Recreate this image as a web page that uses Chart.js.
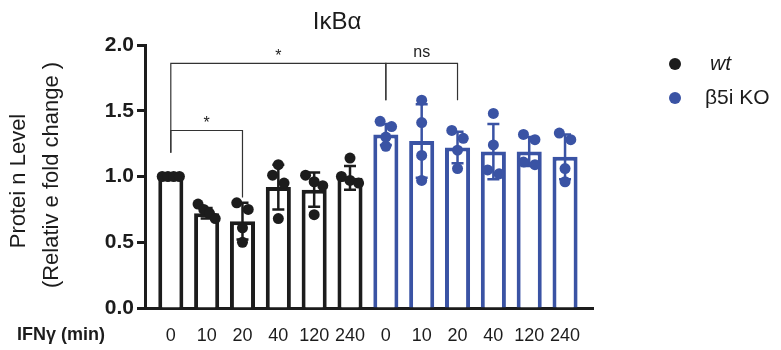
<!DOCTYPE html>
<html>
<head>
<meta charset="utf-8">
<title>IκBα</title>
<script src="https://cdn.jsdelivr.net/npm/chart.js@4"></script>
<style>
  html, body { margin: 0; padding: 0; background: #fff; }
</style>
</head>
<body>
<canvas id="ikbaChart" width="781" height="350"></canvas>
<script>
// IFNγ time points (min), same for both genotypes
const timeLabels = ['0', '10', '20', '40', '120', '240'];

// mean relative fold change
const wtMean = [1.00, 0.72, 0.66, 0.92, 0.90, 0.99];
const koMean = [1.32, 1.27, 1.22, 1.19, 1.19, 1.15];

// SD (error bars)
const wtSD = [0.01, 0.04, 0.14, 0.17, 0.13, 0.09];
const koSD = [0.08, 0.28, 0.12, 0.21, 0.11, 0.17];

// single replicates
const wtDots = [
  [1.00, 1.00, 1.00, 1.00],
  [0.79, 0.75, 0.72, 0.68],
  [0.80, 0.75, 0.61, 0.50],
  [1.09, 1.01, 0.95, 0.68],
  [1.01, 0.96, 0.93, 0.71],
  [1.14, 1.00, 0.97, 0.95]
];
const koDots = [
  [1.42, 1.38, 1.30, 1.23],
  [1.58, 1.41, 1.16, 0.97],
  [1.35, 1.29, 1.20, 1.06],
  [1.48, 1.24, 1.05, 1.02],
  [1.32, 1.28, 1.11, 1.09],
  [1.33, 1.28, 1.06, 0.96]
];

// significance brackets (bar index / y value)
const sigBrackets = [
  { from: 0, to: 6, y: 1.86, fromEnd: 1.18, toEnd: 1.58, label: '*' },
  { from: 0, to: 2, y: 1.35, fromEnd: 1.18, toEnd: 0.84, label: '*' },
  { from: 6, to: 8, y: 1.86, fromEnd: 1.58, toEnd: 1.58, label: 'ns' }
];

const BLACK = '#1c1c1c';
const BLUE = '#3a53a4';
const FONT = '"Liberation Sans", Arial, sans-serif';

const allMeans = wtMean.concat(koMean);
const allSD = wtSD.concat(koSD);
const barColors = allMeans.map((_, i) => i < wtMean.length ? BLACK : BLUE);

// spread out dots that would overlap (like prism scatter)
function spreadDots(vals) {
  const order = vals.map((v, k) => ({ v, k })).sort((a, b) => b.v - a.v);
  const off = vals.map(() => 0);
  let cluster = [order[0].k];
  const flush = () => {
    const n = cluster.length;
    if (n > 1) {
      const w = n === 2 ? 0.32 : 0.48;
      cluster.forEach((k, j) => { off[k] = -w / 2 + w * j / (n - 1); });
    }
  };
  for (let j = 1; j < order.length; j++) {
    const prev = order[j - 1].k, cur = order[j].k;
    if (Math.abs(vals[cur] - vals[prev]) < 0.065) {
      cluster.push(cur);
    } else {
      flush();
      cluster = [cur];
    }
  }
  flush();
  return off;
}

function dotPoints(groups, start) {
  const pts = [];
  groups.forEach((vals, i) => {
    const off = spreadDots(vals);
    vals.forEach((v, k) => pts.push({ x: start + i + off[k], y: v }));
  });
  return pts;
}

const errorBars = {
  id: 'errorBars',
  afterDatasetDraw(chart, args) {
    if (args.index !== 0) return;
    const ctx = chart.ctx, x = chart.scales.x, y = chart.scales.y;
    ctx.save();
    ctx.lineWidth = 2.5;
    allMeans.forEach((m, i) => {
      const px = x.getPixelForValue(i);
      const top = y.getPixelForValue(m + allSD[i]);
      const bot = y.getPixelForValue(m - allSD[i]);
      ctx.strokeStyle = barColors[i];
      ctx.beginPath();
      ctx.moveTo(px, top); ctx.lineTo(px, bot);
      ctx.moveTo(px - 6, top); ctx.lineTo(px + 6, top);
      ctx.moveTo(px - 6, bot); ctx.lineTo(px + 6, bot);
      ctx.stroke();
    });
    ctx.restore();
  }
};

const extras = {
  id: 'extras',
  afterDraw(chart) {
    const ctx = chart.ctx, x = chart.scales.x, y = chart.scales.y;
    ctx.save();

    // brackets
    ctx.strokeStyle = '#333';
    ctx.lineWidth = 1.2;
    ctx.fillStyle = '#222';
    ctx.textAlign = 'center';
    ctx.textBaseline = 'alphabetic';
    sigBrackets.forEach(b => {
      const x1 = x.getPixelForValue(b.from), x2 = x.getPixelForValue(b.to);
      const yl = y.getPixelForValue(b.y);
      ctx.beginPath();
      ctx.moveTo(x1, y.getPixelForValue(b.fromEnd));
      ctx.lineTo(x1, yl);
      ctx.lineTo(x2, yl);
      ctx.lineTo(x2, y.getPixelForValue(b.toEnd));
      ctx.stroke();
      ctx.font = '16px ' + FONT;
      ctx.fillText(b.label, (x1 + x2) / 2, b.label === '*' ? yl - 2 : yl - 6);
    });

    // title
    ctx.fillStyle = BLACK;
    ctx.font = '24px ' + FONT;
    ctx.textBaseline = 'middle';
    ctx.fillText('IκBα', 337, 22);

    // y axis title (two lines)
    ctx.save();
    ctx.font = '22px ' + FONT;
    ctx.translate(19, 181);
    ctx.rotate(-Math.PI / 2);
    ctx.fillText('Protei n Level', 0, 0);
    ctx.restore();
    ctx.save();
    ctx.font = '22px ' + FONT;
    ctx.translate(52, 175);
    ctx.rotate(-Math.PI / 2);
    ctx.fillText('(Relativ e fold change )', 0, 0);
    ctx.restore();

    // x axis caption
    ctx.textAlign = 'left';
    ctx.font = 'bold 18px ' + FONT;
    ctx.fillText('IFNγ (min)', 17, 335);

    // legend
    const legend = [
      { label: 'wt', color: BLACK, italic: true, y: 64 },
      { label: 'β5i KO', color: BLUE, italic: false, y: 98 }
    ];
    legend.forEach(l => {
      ctx.fillStyle = l.color;
      ctx.beginPath();
      ctx.arc(675, l.y, 6, 0, Math.PI * 2);
      ctx.fill();
      ctx.fillStyle = BLACK;
      ctx.font = (l.italic ? 'italic ' : '') + '21px ' + FONT;
      ctx.fillText(l.label, l.italic ? 710 : 705, l.y);
    });
    ctx.restore();
  }
};

new Chart(document.getElementById('ikbaChart'), {
  type: 'bar',
  data: {
    datasets: [
      {
        type: 'bar',
        data: allMeans.map((m, i) => ({ x: i, y: m })),
        backgroundColor: '#fff',
        borderColor: barColors,
        borderWidth: 4,
        barPercentage: 0.7,
        categoryPercentage: 1,
        order: 2
      },
      {
        type: 'scatter',
        data: dotPoints(wtDots, 0),
        backgroundColor: BLACK,
        borderWidth: 0,
        pointRadius: 5.5,
        order: 1
      },
      {
        type: 'scatter',
        data: dotPoints(koDots, wtDots.length),
        backgroundColor: BLUE,
        borderWidth: 0,
        pointRadius: 5.5,
        order: 1
      }
    ]
  },
  options: {
    responsive: false,
    animation: false,
    layout: { padding: { top: 45, right: 188, left: 0, bottom: 0 } },
    plugins: { legend: { display: false }, tooltip: { enabled: false } },
    scales: {
      x: {
        type: 'linear',
        offset: false,
        min: -0.72,
        max: 11.78,
        grid: { display: false, drawTicks: false, offset: false },
        border: { display: true, color: BLACK, width: 3 },
        afterBuildTicks: s => { s.ticks = allMeans.map((_, i) => ({ value: i })); },
        afterFit: s => { s.height = 42; },
        ticks: {
          autoSkip: false,
          maxRotation: 0,
          padding: 17,
          color: BLACK,
          font: { family: FONT, size: 18 },
          callback: v => timeLabels[v % timeLabels.length]
        }
      },
      y: {
        min: 0,
        max: 2,
        afterFit: s => { s.width = 145; },
        grid: { drawOnChartArea: false, drawTicks: true, tickLength: 8, tickWidth: 3, tickColor: BLACK },
        border: { display: true, color: BLACK, width: 3 },
        ticks: {
          stepSize: 0.5,
          padding: 3,
          color: BLACK,
          font: { family: FONT, size: 21, weight: 'bold' },
          callback: v => v.toFixed(1)
        }
      }
    }
  },
  plugins: [errorBars, extras]
});
</script>
</body>
</html>
